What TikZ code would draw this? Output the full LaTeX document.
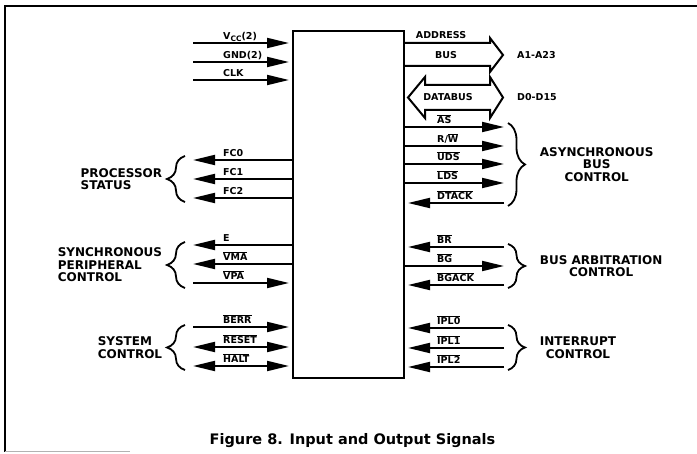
\documentclass[tikz,border=0pt]{standalone}
\usepackage{fontspec}
\setmainfont{DejaVu Sans}
\usepackage{tikz}
\usetikzlibrary{arrows.meta,decorations.pathreplacing}
\newcommand{\ovl}[1]{$\overline{\mbox{#1}}$}
\newcommand{\vcclabel}{V\raisebox{-2pt}{\fontsize{7.5}{8}\selectfont CC}(2)}
\tikzset{
  frame/.style={line width=1.8pt},
  chipn/.style={draw, line width=2pt, minimum width=111pt, minimum height=347pt, inner sep=0pt},
  sig/.style={line width=2pt},
  sigin/.style={sig, -{Triangle[length=22pt,width=10pt]}, shorten >=3pt},
  sigout/.style={sig, -{Triangle[length=22pt,width=10pt]}},
  sigbi/.style={sig, {Triangle[length=22pt,width=10pt]}-{Triangle[length=22pt,width=10pt]}, shorten >=3pt},
  bus/.style={line width=2pt, line join=miter},
  sigl/.style={font=\bfseries\fontsize{9.5}{10}\selectfont, inner sep=0pt, anchor=base west},
  busl/.style={font=\bfseries\fontsize{9.5}{10}\selectfont, inner sep=0pt},
  grp/.style={font=\bfseries\fontsize{12}{12.5}\selectfont, inner sep=1pt},
  lbrace/.style={line width=1.8pt, decorate, decoration={brace, amplitude=18pt}},
  rbrace/.style={line width=1.8pt, decorate, decoration={brace, amplitude=17pt}},
  capt/.style={font=\bfseries\fontsize{14.5}{16}\selectfont},
}
\begin{document}
\begin{tikzpicture}[x=1pt,y=-1pt]
\useasboundingbox (0,0) rectangle (697,454);
\draw[frame] (697,6) -- (5,6) -- (5,452);
\draw[gray!60, line width=1pt] (5,452) -- (130,452);
\node[chipn] (chip) at (348.5,204.5) {};
% left side pins
\foreach \n/\y/\t in {vcc/43/\vcclabel, gnd/62/GND(2), clk/80/CLK,
    fc0/160/FC0, fc1/179/FC1, fc2/198/FC2, e/245/E, vma/264/\ovl{VMA}, vpa/283/\ovl{VPA},
    berr/327/\ovl{BERR}, reset/347/\ovl{RESET}, halt/366/\ovl{HALT}} {
  \coordinate (\n) at (193,\y);
  \node[sigl] (\n-l) at (223,\y-3) {\t};
}
% right side pins
\foreach \n/\y/\t in {as/127/\ovl{AS}, rw/146/{R/\ovl{W}}, uds/164/\ovl{UDS}, lds/183/\ovl{LDS},
    dtack/203/\ovl{DTACK}, br/247/\ovl{BR}, bg/266/\ovl{BG}, bgack/285/\ovl{BGACK},
    ipl0/328/\ovl{IPL0}, ipl1/348/\ovl{IPL1}, ipl2/367/\ovl{IPL2}} {
  \coordinate (\n) at (504,\y);
  \node[sigl] (\n-l) at (437,\y-3) {\t};
}
\foreach \n in {vcc,gnd,clk,vpa,berr} \draw[sigin] (\n) -- (\n -| chip.west);
\foreach \n in {fc0,fc1,fc2,e,vma} \draw[sigout] (\n -| chip.west) -- (\n);
\foreach \n in {reset,halt} \draw[sigbi] (\n) -- (\n -| chip.west);
\foreach \n in {as,rw,uds,lds,bg} \draw[sigout] (\n -| chip.east) -- (\n);
\foreach \n in {dtack,br,bgack,ipl0,ipl1,ipl2} \draw[sigin] (\n) -- (\n -| chip.east);
% buses
\draw[bus] (chip.east |- 0,43) -- (490,43) -- (490,38) -- (503,55) -- (490,72) -- (490,66) -- (chip.east |- 0,66);
\draw[bus] (425,85) -- (490,85) -- (490,77) -- (503,97.5) -- (490,118) -- (490,110) -- (425,110)
  -- (425,118) -- (408,97.5) -- (425,77) -- cycle;
\node[busl] (adr-l) at (441,35) {ADDRESS};
\node[busl] (adr-bus) at (446,55) {BUS};
\node[busl, anchor=west] (adr-pins) at (517,55) {A1-A23};
\node[busl] (data-l) at (448,97.5) {DATABUS};
\node[busl, anchor=west] (data-pins) at (517,97.5) {D0-D15};
% groups
\draw[lbrace] (185,202) -- node[grp, left=21pt, align=left] (ps) {PROCESSOR\\STATUS} (185,156);
\draw[lbrace] (185,288) -- node[grp, left=21pt, align=left] (spc) {SYNCHRONOUS\\PERIPHERAL\\CONTROL} (185,242);
\draw[lbrace] (185,370) -- node[grp, left=21pt, align=left] (sc) {SYSTEM\\CONTROL} (185,325);
\draw[rbrace] (508,123) -- node[grp, right=30pt, align=center] (abc) {ASYNCHRONOUS\\BUS\\CONTROL} (508,206);
\draw[rbrace] (508,244) -- node[grp, right=30pt, align=center] (bac) {BUS ARBITRATION\\CONTROL} (508,288);
\draw[rbrace] (508,325) -- node[grp, right=30pt, align=center] (ic) {INTERRUPT\\CONTROL} (508,370);
\node[capt] (cap) at (352.5,441) {Figure 8. Input and Output Signals};
\end{tikzpicture}
\end{document}
